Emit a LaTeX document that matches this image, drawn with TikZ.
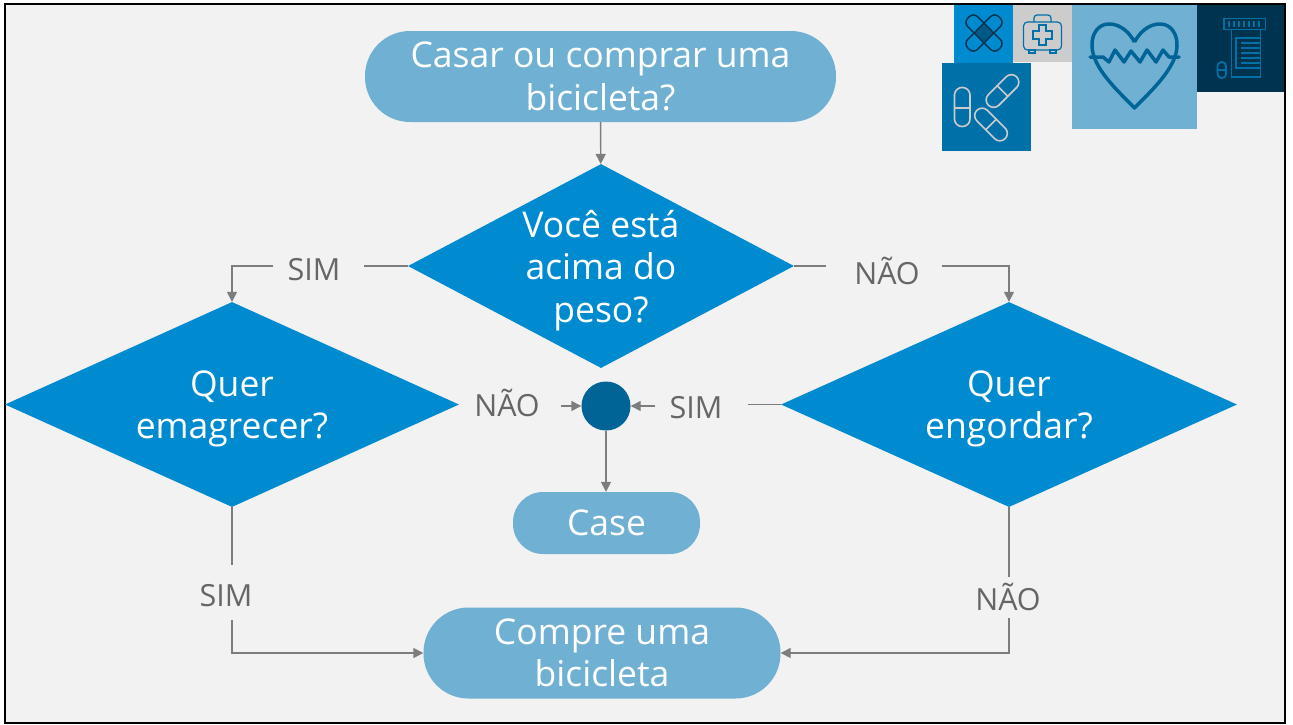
\documentclass[tikz,border=0pt]{standalone}
\usepackage{fontspec}
\setmainfont{Open Sans}
\usetikzlibrary{calc,arrows.meta,shapes.geometric}

\definecolor{bluemid}{HTML}{008ACF}
\definecolor{bluelight}{HTML}{70B0D3}
\definecolor{bluedark}{HTML}{006496}
\definecolor{bluesea}{HTML}{0070A8}
\definecolor{bluenavy}{HTML}{00334D}
\definecolor{greytext}{HTML}{666666}
\definecolor{greyicon}{HTML}{CCCCCC}

\tikzset{
  terminal/.style={fill=bluelight, text=white, align=center, inner sep=0pt,
    font=\fontsize{35.5}{42.5}\selectfont},
  decision/.style={diamond, fill=bluemid, text=white, align=center, inner xsep=-60pt, inner ysep=-40pt,
    font=\fontsize{35.5}{42.5}\selectfont},
  answer/.style={text=greytext, inner xsep=14pt, inner ysep=0pt, text height=22pt, text depth=0pt,
    font=\fontsize{30.5}{31}\selectfont},
  link/.style={draw=greytext!85, line width=1.4pt},
  flow/.style={link, -{Triangle[length=10pt,width=10pt]}},
}

\begin{document}
\begin{tikzpicture}[x=1pt, y=-1pt]
  \useasboundingbox (0,0) rectangle (1293,724);
  \fill[white] (0,0) rectangle (1293,724);
  \draw[fill=black!5, line width=2pt] (5,4) rectangle (1285,723);

  \node[decision, minimum width=386pt, minimum height=204pt, text height=121.5pt] (a1) at (601,266) {Você está\\acima do\\peso?};
  \node[terminal, minimum width=471pt, minimum height=91pt, rounded corners=45pt] (s1) at ($(a1) + (-0.5,-189.5)$) {Casar ou comprar uma\\bicicleta?};
  \node[decision, minimum width=454pt, minimum height=205pt, text height=77.5pt] (b1) at ($(a1) + (-369,138.5)$) {Quer\\emagrecer?};
  \node[decision, minimum width=456pt, minimum height=205pt, text height=77.5pt] (b2) at ($(a1) + (408,138.5)$) {Quer\\engordar?};
  \node[circle, fill=bluedark, minimum size=49pt, inner sep=0pt] (c1) at ($(a1) + (5,140)$) {};
  \node[terminal, minimum width=187pt, minimum height=62pt, rounded corners=30pt] (d1) at ($(a1) + (5.5,257)$) {Case};
  \node[terminal, minimum width=357pt, minimum height=91pt, rounded corners=45pt] (d2) at ($(a1) + (1,387)$) {Compre uma\\bicicleta};

  \node[answer] (l1) at ($(a1) + (-287,3)$) {SIM};
  \node[answer] (l2) at ($(a1) + (286,7)$) {NÃO};
  \node[answer] (l3) at ($(a1) + (-94,139)$) {NÃO};
  \node[answer] (l4) at ($(a1) + (95,141)$) {SIM};
  \node[answer] (l5) at ($(a1) + (-375,329)$) {SIM};
  \node[answer] (l6) at ($(a1) + (407,333)$) {NÃO};

  \draw[flow] (s1) -- (a1);
  \draw[link] (a1.west) -- ([xshift=9pt]l1.east |- a1.west);
  \draw[flow] (l1.west |- a1.west) -| (b1.north);
  \draw[link] (a1.east) -- ([xshift=-14pt]l2.west |- a1.east);
  \draw[flow] ([xshift=8pt]l2.east |- a1.east) -| (b2.north);
  \draw[flow] ([xshift=7pt]l3.east |- c1.west) -- (c1.west);
  \draw[flow] (l4.west |- c1.east) -- (c1.east);
  \draw[link] (b2.west) -- ([xshift=11pt]l4.east |- b2.west);
  \draw[flow] (c1.south) -- (c1.south |- d1.north);
  \draw[link] (b1.south) -- (b1.south |- 0,565);
  \draw[flow] (b1.south |- 0,620) |- (d2.west);
  \draw[link] (b2.south) -- (b2.south |- 0,577);
  \draw[flow] (b2.south |- 0,618) |- (d2.east);

  % icons
  \fill[bluemid] (954,5) rectangle (1013,63);
  \fill[greyicon] (1013,5) rectangle (1072,62);
  \fill[bluelight] (1072,5) rectangle (1197,129);
  \fill[bluenavy] (1197,5) rectangle (1284,92);
  \fill[bluesea] (942,63) rectangle (1031,151);

  % bandage
  \begin{scope}[shift={(984,33)}, draw=bluenavy, line width=1.5pt]
    \draw[rotate=45, rounded corners=6pt] (-22,-7) rectangle (22,7);
    \draw[rotate=-45, rounded corners=6pt] (-22,-7) rectangle (22,7);
    \fill[bluenavy, rotate=45, opacity=.55] (-7,-7) rectangle (7,7);
  \end{scope}

  % first aid case
  \begin{scope}[draw=bluesea, line width=1.2pt]
    \draw[rounded corners=4pt] (1023.5,22) rectangle (1061.5,50);
    \draw[rounded corners=3pt] (1034,22) -- (1034,15) -- (1051,15) -- (1051,22);
    \draw (1039,25) -- (1046,25) -- (1046,31) -- (1052,31) -- (1052,39) -- (1046,39)
      -- (1046,45) -- (1039,45) -- (1039,39) -- (1033,39) -- (1033,31) -- (1039,31) -- cycle;
    \draw (1029,50) rectangle (1035,53);
    \draw (1050,50) rectangle (1056,53);
  \end{scope}

  % heart
  \draw[bluedark, line width=3.5pt, line join=round]
    (1134.5,42) .. controls (1127,28) and (1116,23.5) .. (1108,24)
    .. controls (1098,24.5) and (1091.5,34) .. (1092,46)
    .. controls (1092.5,68) and (1118,91) .. (1134.5,108)
    .. controls (1151,91) and (1176.5,68) .. (1177,46)
    .. controls (1177.5,34) and (1171,24.5) .. (1161,24)
    .. controls (1153,23.5) and (1142,28) .. (1134.5,42);
  \draw[bluedark, line width=3.5pt, line join=round, line cap=round]
    (1090,57) -- (1103,57) -- (1109,62) -- (1115,50) -- (1124,62) -- (1131,51)
    -- (1140,62) -- (1147,50) -- (1156,62) -- (1163,50) -- (1169,57) -- (1179,57);

  % bottle
  \begin{scope}[draw=bluesea, line width=1.8pt]
    \draw (1224,18.5) rectangle (1265.5,29.5);
    \draw (1231.5,29.5) rectangle (1260.5,77);
    \draw (1236,38) rectangle (1260.5,68);
    \foreach \ypos in {43,48,53,58,63} {
      \draw (1241,\ypos) -- (1260,\ypos);
    }
    \foreach \xpos in {1229,1234,...,1260} {
      \draw (\xpos,21) -- (\xpos,27);
    }
    \draw[rounded corners=4pt] (1217.5,62) rectangle (1226,78);
    \draw (1217.5,70) -- (1226,70);
  \end{scope}

  % pills
  \begin{scope}[draw=greyicon, line width=1.6pt]
    \draw[rounded corners=7.5pt] (954.5,87.5) rectangle (970,126.5);
    \draw (954.5,108) -- (970,108);
    \begin{scope}[shift={(1002.5,91)}, rotate=-45]
      \draw[rounded corners=7.5pt] (-7.5,-20) rectangle (7.5,20);
      \draw (-7.5,0) -- (7.5,0);
    \end{scope}
    \begin{scope}[shift={(991,124.5)}, rotate=45]
      \draw[rounded corners=7.5pt] (-7.5,-20) rectangle (7.5,20);
      \draw (-7.5,0) -- (7.5,0);
    \end{scope}
  \end{scope}
\end{tikzpicture}
\end{document}
